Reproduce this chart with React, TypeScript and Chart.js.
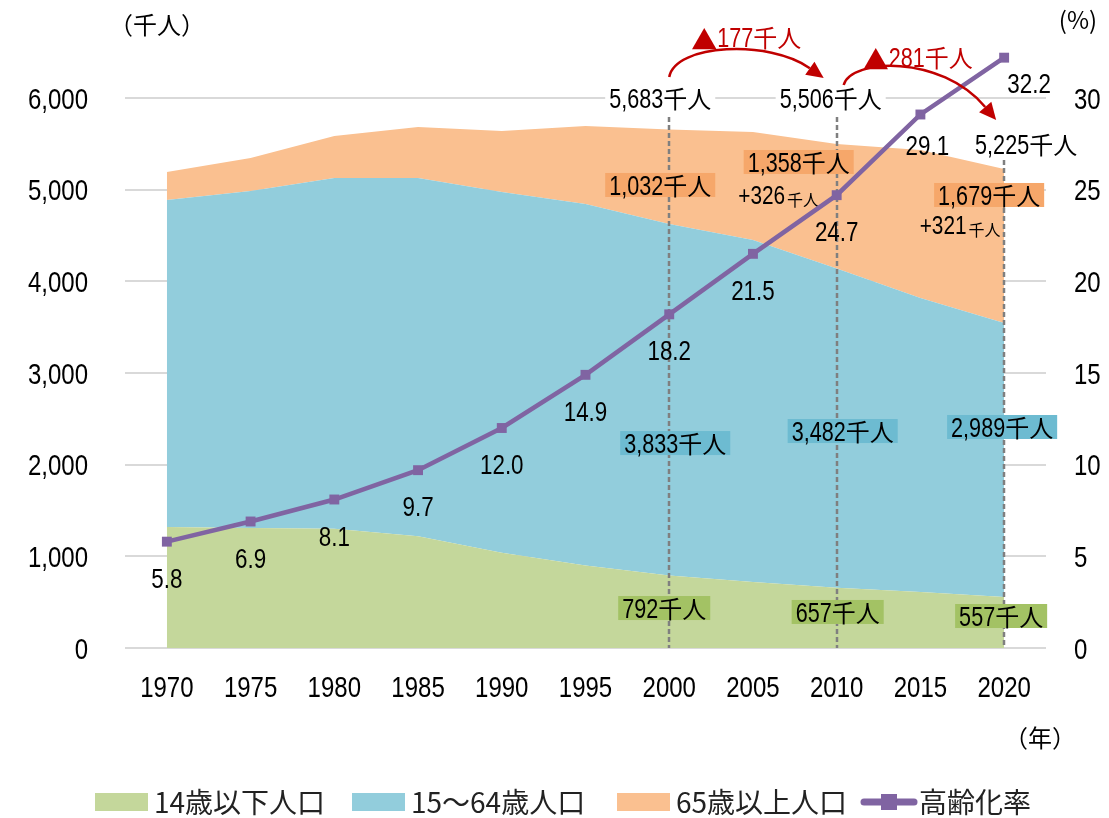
import React, { useEffect, useRef } from "react";
import { Chart, registerables } from "chart.js";
Chart.register(...registerables);

const years = ["1970", "1975", "1980", "1985", "1990", "1995", "2000", "2005", "2010", "2015", "2020"];
const under15 = [1320, 1310, 1300, 1220, 1040, 900, 792, 720, 657, 610, 557];
const age15to64 = [3567, 3675, 3827, 3907, 3934, 3944, 3833, 3731, 3482, 3208, 2989];
const over65 = [306, 360, 458, 556, 666, 850, 1032, 1178, 1358, 1615, 1679];
const agingRate = [5.8, 6.9, 8.1, 9.7, 12.0, 14.9, 18.2, 21.5, 24.7, 29.1, 32.2];

const leftTicks = [0, 1000, 2000, 3000, 4000, 5000, 6000];
const rightTicks = [0, 5, 10, 15, 20, 25, 30];

const seriesNames = ["14歳以下人口", "15～64歳人口", "65歳以上人口", "高齢化率"];
const totalLabels = ["5,683千人", "5,506千人", "5,225千人"];
const changeLabels = ["▲177千人", "▲281千人"];
const increaseLabels = ["+326", "+321"];
const unitLabel = "千人";

const C_GREEN = "#C4D79B";
const C_BLUE = "#92CDDC";
const C_ORANGE = "#FAC090";
const C_PURPLE = "#8064A2";
const C_GREEN_BOX = "#A3C264";
const C_BLUE_BOX = "#6DBBD1";
const C_ORANGE_BOX = "#F6A76A";
const C_RED = "#C00000";

const FONT_LAT = "'Liberation Sans', Arial, sans-serif";
const FONT_JP = "'Noto Sans CJK JP', sans-serif";
const SX = 0.8;

function fmt(n: number) {
  return n.toLocaleString("en-US");
}

type Seg = { t: string; ascii: boolean };
function segments(s: string): Seg[] {
  const out: Seg[] = [];
  for (const ch of s) {
    const a = /[\x20-\x7E]/.test(ch);
    if (out.length && out[out.length - 1].ascii === a) out[out.length - 1].t += ch;
    else out.push({ t: ch, ascii: a });
  }
  return out;
}

function segFont(sg: Seg, size: number, cjk: number) {
  if (sg.ascii) return `${size}px ${FONT_LAT}`;
  if (sg.t === "▲") return `${Math.round(cjk * 1.1)}px ${FONT_JP}`;
  return `${cjk}px ${FONT_JP}`;
}

function measureRich(ctx: CanvasRenderingContext2D, s: string, size: number, cjk: number) {
  let w = 0;
  for (const sg of segments(s)) {
    ctx.font = segFont(sg, size, cjk);
    w += ctx.measureText(sg.t).width * (sg.ascii ? SX : 1);
  }
  return w;
}

function rich(ctx: CanvasRenderingContext2D, s: string, x: number, y: number, size: number, color = "#000", align: "left" | "center" | "right" = "center", cjk = size * 0.9) {
  const total = measureRich(ctx, s, size, cjk);
  let cur = align === "center" ? x - total / 2 : align === "right" ? x - total : x;
  const yb = y + size * 0.36;
  ctx.save();
  ctx.fillStyle = color;
  ctx.textAlign = "left";
  ctx.textBaseline = "alphabetic";
  for (const sg of segments(s)) {
    const sc = sg.ascii ? SX : 1;
    ctx.font = segFont(sg, size, cjk);
    const w = ctx.measureText(sg.t).width;
    ctx.save();
    ctx.translate(cur, yb + (sg.t === "▲" ? 3 : 0));
    ctx.scale(sc, 1);
    ctx.fillText(sg.t, 0, 0);
    ctx.restore();
    cur += w * sc;
  }
  ctx.restore();
  return total;
}

function jp(ctx: CanvasRenderingContext2D, s: string, x: number, y: number, size: number, color = "#000", align: CanvasTextAlign = "center") {
  ctx.font = `${size}px ${FONT_JP}`;
  ctx.fillStyle = color;
  ctx.textAlign = align;
  ctx.textBaseline = "middle";
  ctx.fillText(s, x, y);
}

function boxText(ctx: CanvasRenderingContext2D, s: string, x: number, y: number, bg: string) {
  const w = measureRich(ctx, s, 27, 24);
  ctx.fillStyle = bg;
  ctx.fillRect(x - w / 2 - 4, y - 12, w + 8, 24);
  rich(ctx, s, x, y, 27, "#000", "center", 24);
}

function plusText(ctx: CanvasRenderingContext2D, num: string, x: number, y: number) {
  const w1 = measureRich(ctx, num, 26, 16);
  const w2 = measureRich(ctx, unitLabel, 26, 16);
  const left = x - (w1 + w2 + 2) / 2;
  rich(ctx, num, left, y, 26, "#000", "left");
  rich(ctx, unitLabel, left + w1 + 2, y + 2, 26, "#000", "left", 16);
}

function arrow(ctx: CanvasRenderingContext2D, p0: number[], c1: number[], c2: number[], p1: number[]) {
  const ang = Math.atan2(p1[1] - c2[1], p1[0] - c2[0]);
  const L = 17, W = 8;
  const bx = p1[0] - L * Math.cos(ang);
  const by = p1[1] - L * Math.sin(ang);
  ctx.save();
  ctx.strokeStyle = C_RED;
  ctx.fillStyle = C_RED;
  ctx.lineWidth = 2.5;
  ctx.beginPath();
  ctx.moveTo(p0[0], p0[1]);
  ctx.bezierCurveTo(c1[0], c1[1], c2[0], c2[1], bx, by);
  ctx.stroke();
  ctx.beginPath();
  ctx.moveTo(p1[0], p1[1]);
  ctx.lineTo(bx + W * Math.sin(ang), by - W * Math.cos(ang));
  ctx.lineTo(bx - W * Math.sin(ang), by + W * Math.cos(ang));
  ctx.closePath();
  ctx.fill();
  ctx.restore();
}

const annotate = {
  id: "annotate",
  beforeDatasetDraw(chart: any, args: any) {
    if (args.index !== 3) return;
    const ctx = chart.ctx;
    const x = chart.scales.x;
    const y = chart.scales.y;
    const bottom = chart.chartArea.bottom;
    ctx.save();
    ctx.strokeStyle = "#7F7F7F";
    ctx.lineWidth = 2.5;
    ctx.setLineDash([5, 3]);
    const tops = [117, 117, 160];
    [6, 8, 10].forEach((i, k) => {
      const px = Math.round(x.getPixelForValue(i));
      ctx.beginPath();
      ctx.moveTo(px, tops[k]);
      ctx.lineTo(px, bottom);
      ctx.stroke();
    });
    ctx.restore();
    const px = (i: number) => x.getPixelForValue(i);
    boxText(ctx, fmt(under15[6]) + unitLabel, px(6) - 5, y.getPixelForValue(436), C_GREEN_BOX);
    boxText(ctx, fmt(under15[8]) + unitLabel, px(8) + 1, y.getPixelForValue(393), C_GREEN_BOX);
    boxText(ctx, fmt(under15[10]) + unitLabel, px(10) - 3, y.getPixelForValue(349), C_GREEN_BOX);
    boxText(ctx, fmt(age15to64[6]) + unitLabel, px(6) + 6, y.getPixelForValue(2236), C_BLUE_BOX);
    boxText(ctx, fmt(age15to64[8]) + unitLabel, px(8) + 6, y.getPixelForValue(2367), C_BLUE_BOX);
    boxText(ctx, fmt(age15to64[10]) + unitLabel, px(10) - 2, y.getPixelForValue(2411), C_BLUE_BOX);
    boxText(ctx, fmt(over65[6]) + unitLabel, px(6) - 9, y.getPixelForValue(5051), C_ORANGE_BOX);
    boxText(ctx, fmt(over65[8]) + unitLabel, px(8) - 38, y.getPixelForValue(5302), C_ORANGE_BOX);
    boxText(ctx, fmt(over65[10]) + unitLabel, px(10) - 15, y.getPixelForValue(4942), C_ORANGE_BOX);
    plusText(ctx, increaseLabels[0], px(8) - 58, y.getPixelForValue(4942));
    plusText(ctx, increaseLabels[1], px(10) - 44, y.getPixelForValue(4615));
  },
  afterDatasetsDraw(chart: any) {
    const ctx = chart.ctx;
    const x = chart.scales.x;
    const y = chart.scales.y;
    const y1 = chart.scales.y1;
    const px = (i: number) => x.getPixelForValue(i);
    agingRate.forEach((v, i) => {
      let dx = 0, dy = 36;
      if (i === 9) { dx = 7; dy = 30; }
      if (i === 10) { dx = 25; dy = 25; }
      rich(ctx, v.toFixed(1), px(i) + dx, y1.getPixelForValue(v) + dy, 28);
    });
    const totals = [
      [totalLabels[0], px(6) - 9, y.getPixelForValue(6000)],
      [totalLabels[1], px(8) - 6, y.getPixelForValue(6000)],
      [totalLabels[2], px(10) + 22, y.getPixelForValue(5498)],
    ] as [string, number, number][];
    totals.forEach(([s, tx, ty]) => {
      const w = measureRich(ctx, s, 27, 24);
      ctx.fillStyle = "#fff";
      ctx.fillRect(tx - w / 2 - 4, ty - 13, w + 8, 26);
      rich(ctx, s, tx, ty, 27, "#000", "center", 24);
    });
    const p6 = px(6), p8 = px(8), p10 = px(10);
    arrow(ctx, [p6, y.getPixelForValue(6229)], [p6 + 6, y.getPixelForValue(6590)], [p6 + 100, y.getPixelForValue(6640)], [p8 - 13, y.getPixelForValue(6218)]);
    arrow(ctx, [p8 + 7, y.getPixelForValue(6142)], [p8 + 14, y.getPixelForValue(6430)], [p8 + 104, y.getPixelForValue(6480)], [p10 - 8, y.getPixelForValue(5760)]);
    rich(ctx, changeLabels[0], p6 + 77, y.getPixelForValue(6665), 27, C_RED, "center", 24);
    rich(ctx, changeLabels[1], p8 + 81, y.getPixelForValue(6447), 27, C_RED, "center", 24);
  },
  afterDraw(chart: any) {
    const ctx = chart.ctx;
    const x = chart.scales.x;
    const y = chart.scales.y;
    const y1 = chart.scales.y1;
    const area = chart.chartArea;
    years.forEach((yr, i) => rich(ctx, yr, x.getPixelForValue(i), area.bottom + 38, 30));
    leftTicks.forEach((v) => rich(ctx, fmt(v), area.left - 37, y.getPixelForValue(v), 30, "#000", "right"));
    rightTicks.forEach((v) => rich(ctx, String(v), area.right + 28, y1.getPixelForValue(v), 30, "#000", "left"));
    jp(ctx, "（千人）", 157, 25, 24);
    jp(ctx, "(%)", 1078, 20, 24);
    jp(ctx, "（年）", 1040, 738, 24);
    const ly = 802;
    const fills = [C_GREEN, C_BLUE, C_ORANGE];
    const boxX = [95, 352, 617];
    fills.forEach((c, i) => {
      ctx.fillStyle = c;
      ctx.fillRect(boxX[i], ly - 9, 53, 18);
      jp(ctx, seriesNames[i], boxX[i] + 59, ly, 28, "#222", "left");
    });
    ctx.save();
    ctx.strokeStyle = C_PURPLE;
    ctx.lineWidth = 7;
    ctx.lineCap = "round";
    ctx.beginPath();
    ctx.moveTo(864, ly);
    ctx.lineTo(914, ly);
    ctx.stroke();
    ctx.fillStyle = C_PURPLE;
    ctx.fillRect(881, ly - 8, 16, 16);
    ctx.restore();
    jp(ctx, seriesNames[3], 919, ly, 28, "#222", "left");
  },
};

export default function App() {
  const ref = useRef<HTMLCanvasElement>(null);
  useEffect(() => {
    document.body.style.margin = "0";
    const chart = new Chart(ref.current!, {
      type: "line",
      data: {
        labels: years,
        datasets: [
          { label: seriesNames[0], data: under15, yAxisID: "y", fill: "origin", backgroundColor: C_GREEN, borderWidth: 0, pointRadius: 0, tension: 0, order: 1 },
          { label: seriesNames[1], data: age15to64, yAxisID: "y", fill: "-1", backgroundColor: C_BLUE, borderWidth: 0, pointRadius: 0, tension: 0, order: 1 },
          { label: seriesNames[2], data: over65, yAxisID: "y", fill: "-1", backgroundColor: C_ORANGE, borderWidth: 0, pointRadius: 0, tension: 0, order: 1 },
          { label: seriesNames[3], data: agingRate, yAxisID: "y1", fill: false, borderColor: C_PURPLE, backgroundColor: C_PURPLE, borderWidth: 4.5, pointStyle: "rect", pointRadius: 7, pointBackgroundColor: C_PURPLE, pointBorderWidth: 0, tension: 0, order: 0 },
        ],
      } as any,
      options: {
        responsive: false,
        animation: false,
        layout: { padding: { top: 43, left: 0, right: 0, bottom: 0 } },
        plugins: { legend: { display: false }, tooltip: { enabled: false } },
        scales: {
          x: {
            type: "category",
            offset: true,
            grid: { display: false, drawTicks: false },
            border: { display: false },
            ticks: { display: false },
            afterFit(s: any) { s.height = 170; },
          },
          y: {
            position: "left",
            stacked: true,
            min: 0,
            max: 6600,
            grid: { color: "#D9D9D9", lineWidth: 2, drawTicks: false },
            border: { display: false },
            ticks: { display: false },
            afterBuildTicks(s: any) { s.ticks = leftTicks.map((v) => ({ value: v })); },
            afterFit(s: any) { s.width = 125; },
          },
          y1: {
            position: "right",
            min: 0,
            max: 33,
            grid: { display: false, drawTicks: false },
            border: { display: false },
            ticks: { display: false },
            afterBuildTicks(s: any) { s.ticks = rightTicks.map((v) => ({ value: v })); },
            afterFit(s: any) { s.width = 63; },
          },
        },
      } as any,
      plugins: [annotate],
    });
    return () => chart.destroy();
  }, []);
  return <canvas ref={ref} width={1109} height={818} style={{ display: "block" }} />;
}
